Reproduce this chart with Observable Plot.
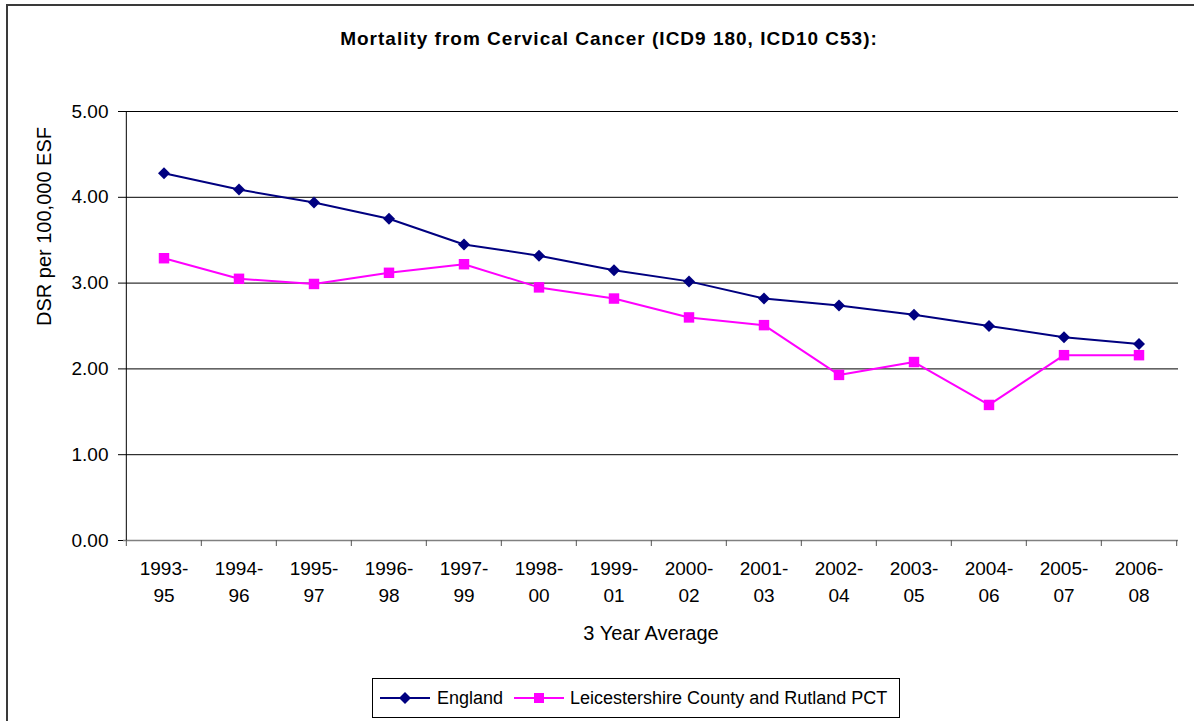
<!DOCTYPE html>
<html><head><meta charset="utf-8">
<script src="https://cdn.jsdelivr.net/npm/d3@7"></script>
<script src="https://cdn.jsdelivr.net/npm/@observablehq/plot@0.6"></script>
<style>
body{margin:0;background:#fff;font-family:"Liberation Sans",Arial,sans-serif;color:#000;}
#wrap{position:relative;width:1194px;height:721px;overflow:hidden;background:#fff;}
#border{position:absolute;left:6px;top:4px;width:1220px;height:760px;border:2px solid #3a3a3a;box-sizing:border-box;}
#title{position:absolute;left:0;width:1218px;top:29px;text-align:center;font-weight:bold;font-size:19px;line-height:19px;letter-spacing:1px;white-space:nowrap;}
#chart{position:absolute;left:0;top:0;}
#legend{position:absolute;left:372px;top:678px;width:528px;height:40px;border:1px solid #000;box-sizing:border-box;display:flex;align-items:center;font-size:18px;padding-left:7px;white-space:nowrap;}
#legend .item{display:flex;align-items:center;}
#legend svg{display:block;}
</style>
</head><body>
<div id="wrap">
  <div id="border"></div>
  <div id="chart"></div>
  <div id="title"></div>
  <div id="legend"></div>
</div>
<script>
const titleText = "Mortality from Cervical Cancer (ICD9 180, ICD10 C53):";
const yLabel = "DSR per 100,000 ESF";
const xLabel = "3 Year Average";
const categories = ["1993-95","1994-96","1995-97","1996-98","1997-99","1998-00","1999-01","2000-02","2001-03","2002-04","2003-05","2004-06","2005-07","2006-08"];
const seriesNames = ["England","Leicestershire County and Rutland PCT"];
const england = [4.28,4.09,3.94,3.75,3.45,3.32,3.15,3.02,2.82,2.74,2.63,2.50,2.37,2.29];
const leics = [3.29,3.05,2.99,3.12,3.22,2.95,2.82,2.60,2.51,1.93,2.08,1.58,2.16,2.16];
const yTicks = [0,1,2,3,4,5];
const colors = ["#000080","#FF00FF"];

const data = categories.flatMap((c,i)=>[
  {period:c, value:england[i], series:seriesNames[0]},
  {period:c, value:leics[i], series:seriesNames[1]}
]);

const W=1194, H=660, mL=123, mR=16, mT=111, mB=120;
const bw = (W-mL-mR)/categories.length;

const chart = Plot.plot({
  width: W, height: H,
  marginLeft: mL, marginRight: mR, marginTop: mT, marginBottom: mB,
  style: {fontFamily: "'Liberation Sans', Arial, sans-serif", fontSize: "19px", color: "#000", background: "transparent", overflow: "visible"},
  x: {type: "band", domain: categories, padding: 0, axis: null},
  y: {domain: [0, 5], axis: null},
  color: {domain: seriesNames, range: colors},
  marks: [
    Plot.ruleY(yTicks.filter(d => d > 0), {stroke: "#000", strokeWidth: 1}),
    Plot.ruleY([0], {stroke: "#808080", strokeWidth: 1.5}),
    Plot.ruleX([categories[0]], {y1: 0, y2: 5, dx: -bw/2, stroke: "#000"}),
    Plot.ruleX(categories, {y1: 0, y2: -0.07, dx: -bw/2, stroke: "#555"}),
    Plot.ruleX([categories[categories.length-1]], {y1: 0, y2: -0.07, dx: bw/2, stroke: "#555"}),
    Plot.axisY(yTicks, {tickSize: 5, tickPadding: 10, tickFormat: d => d.toFixed(2), fontSize: 19, label: null}),
    Plot.axisX({tickSize: 0, tickPadding: 15, tickFormat: d => d.replace("-", "-\n"), lineHeight: 1.42, fontSize: 19, label: null}),
    Plot.line(data, {x: "period", y: "value", z: "series", stroke: "series", strokeWidth: 2}),
    Plot.dot(data, {filter: d => d.series === seriesNames[0], x: "period", y: "value", symbol: "diamond2", r: 5.4, fill: "series", stroke: "none"}),
    Plot.dot(data, {filter: d => d.series === seriesNames[1], x: "period", y: "value", symbol: "square", r: 5.9, fill: "series", stroke: "none"}),
    Plot.text([yLabel], {frameAnchor: "left", rotate: -90, dx: -79, fontSize: 20}),
    Plot.text([xLabel], {frameAnchor: "bottom", dy: 99, fontSize: 20})
  ]
});
document.getElementById("chart").appendChild(chart);
document.getElementById("title").textContent = titleText;

// legend
const legend = document.getElementById("legend");
const shapes = [
  '<polygon points="25,1 31,7 25,13 19,7" fill="'+colors[0]+'"/>',
  '<rect x="20" y="2" width="10" height="10" fill="'+colors[1]+'"/>'
];
const gaps = [[7, 11], [6, 0]];
seriesNames.forEach((name, i) => {
  const item = document.createElement("div");
  item.className = "item";
  item.style.marginRight = gaps[i][1] + "px";
  item.innerHTML = '<svg width="50" height="14" style="margin-right:'+gaps[i][0]+'px"><line x1="0" y1="7" x2="50" y2="7" stroke="'+colors[i]+'" stroke-width="2"/>'+shapes[i]+'</svg><span>'+name+'</span>';
  legend.appendChild(item);
});
</script>
</body></html>
